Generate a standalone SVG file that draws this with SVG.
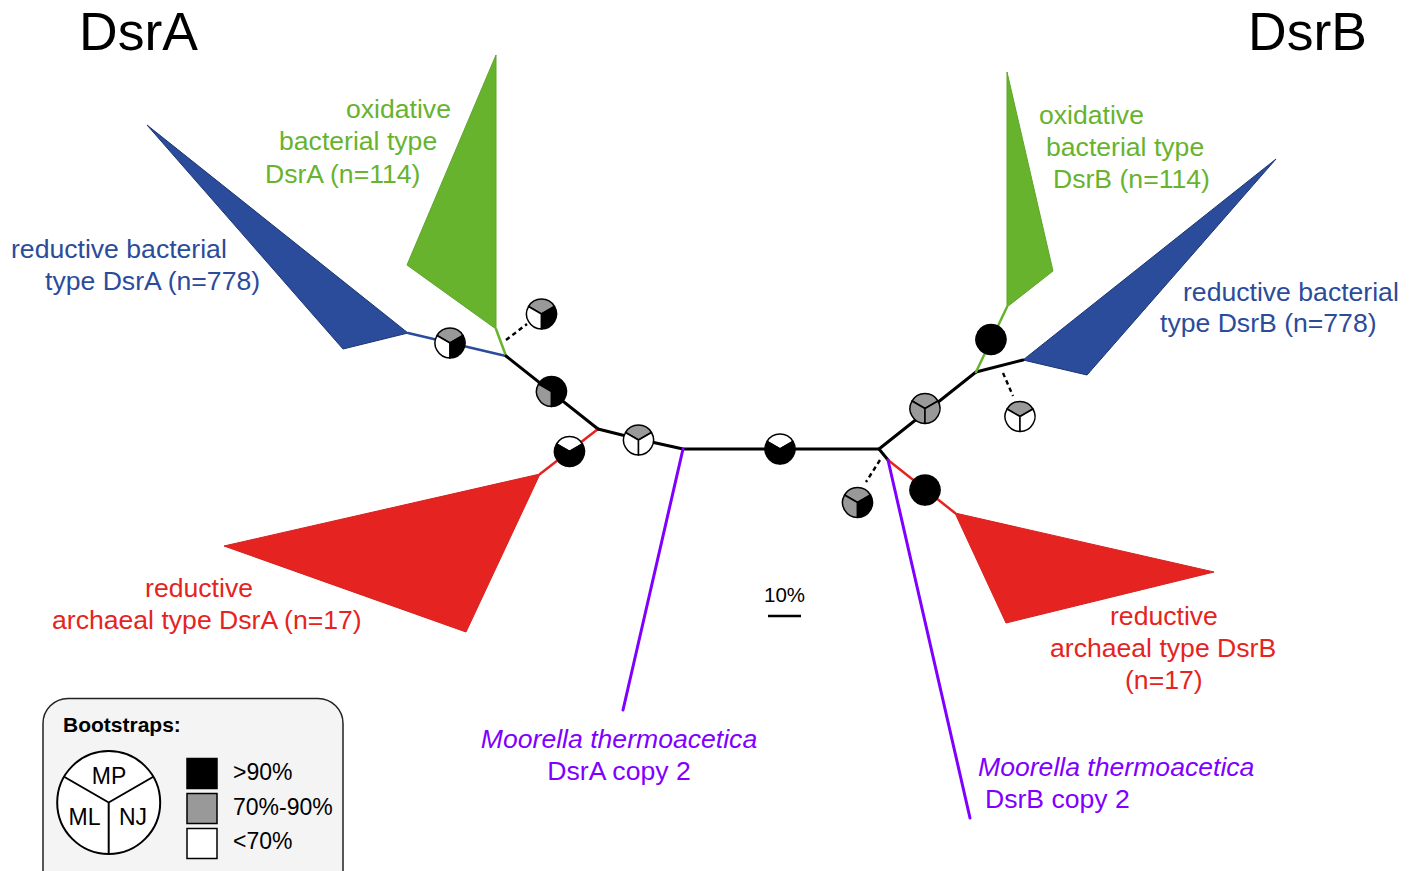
<svg xmlns="http://www.w3.org/2000/svg" xmlns:xlink="http://www.w3.org/1999/xlink" width="1413" height="871" viewBox="0 0 1413 871">
  <style>
    text { font-family: "Liberation Sans", Arial, sans-serif; }
    .lbl { font-size: 26.6px; }
    .green { fill: #67b32e; }
    .blue { fill: #2b4b9b; }
    .red { fill: #e52421; }
    .purple { fill: #8000ff; }
    .title { font-size: 53.5px; fill: #000; }
    .br { fill: none; stroke-linecap: round; stroke-linejoin: round; }
    .bk { stroke: #000; stroke-width: 3; }
    .gr { stroke: #67b32e; stroke-width: 2.5; }
    .bl { stroke: #2b4b9b; stroke-width: 2.5; }
    .rd { stroke: #e52421; stroke-width: 2.5; }
    .pu { stroke: #8000ff; stroke-width: 3; }
    .dash { fill: none; stroke: #000; stroke-width: 2.4; stroke-dasharray: 4.5 3.5; }
    .w-green { fill: #67b32e; stroke: #5ea52a; stroke-width: 1; }
    .w-blue { fill: #2b4b9b; stroke: #1d356f; stroke-width: 1; }
    .w-red { fill: #e52421; stroke: #d8201d; stroke-width: 1; }
    .s { stroke: #000; stroke-width: 1.5; stroke-linejoin: round; }
    .k { fill: #000; }
    .g { fill: #999999; }
    .o { fill: #ffffff; }
    .leg { font-size: 23px; fill: #000; }
  </style>
  <defs>
    <!-- pie sectors, radius 15: MP top, NJ lower right, ML lower left -->
    <path id="mp" d="M0,0 L-12.99,-7.5 A15,15 0 0,1 12.99,-7.5 Z"/>
    <path id="nj" d="M0,0 L12.99,-7.5 A15,15 0 0,1 0,15 Z"/>
    <path id="ml" d="M0,0 L0,15 A15,15 0 0,1 -12.99,-7.5 Z"/>
  </defs>

  <!-- titles -->
  <text class="title" x="79" y="50">DsrA</text>
  <text class="title" x="1367" y="50" text-anchor="end">DsrB</text>

  <!-- collapsed clades -->
  <g id="clade-dsra-reductive-bacterial">
    <polygon class="w-blue" points="147,125 408,333 343,349"/>
    <text class="lbl blue" x="11" y="258">reductive bacterial</text>
    <text class="lbl blue" x="45" y="290">type DsrA (n=778)</text>
  </g>
  <g id="clade-dsra-oxidative">
    <polygon class="w-green" points="496,55 496,329 407,265"/>
    <text class="lbl green" x="346" y="118">oxidative</text>
    <text class="lbl green" x="279" y="150">bacterial type</text>
    <text class="lbl green" x="265" y="182.5">DsrA (n=114)</text>
  </g>
  <g id="clade-dsra-archaeal">
    <polygon class="w-red" points="540,474 466,632 224,546"/>
    <text class="lbl red" x="253" y="596.5" text-anchor="end">reductive</text>
    <text class="lbl red" x="52" y="628.5">archaeal type DsrA (n=17)</text>
  </g>
  <g id="clade-dsrb-oxidative">
    <polygon class="w-green" points="1007,72 1053,271 1007,307"/>
    <text class="lbl green" x="1039" y="123.5">oxidative</text>
    <text class="lbl green" x="1046" y="155.5">bacterial type</text>
    <text class="lbl green" x="1053" y="188">DsrB (n=114)</text>
  </g>
  <g id="clade-dsrb-reductive-bacterial">
    <polygon class="w-blue" points="1023,360 1276,159 1087,375"/>
    <text class="lbl blue" x="1183" y="300.5">reductive bacterial</text>
    <text class="lbl blue" x="1160" y="332">type DsrB (n=778)</text>
  </g>
  <g id="clade-dsrb-archaeal">
    <polygon class="w-red" points="955,513 1214,572 1006,623"/>
    <text class="lbl red" x="1110" y="625">reductive</text>
    <text class="lbl red" x="1050" y="657">archaeal type DsrB</text>
    <text class="lbl red" x="1125" y="689">(n=17)</text>
  </g>
  <g id="leaf-moorella-dsra">
    <text class="lbl purple" x="619" y="748" text-anchor="middle" font-style="italic">Moorella thermoacetica</text>
    <text class="lbl purple" x="619" y="780" text-anchor="middle">DsrA copy 2</text>
  </g>
  <g id="leaf-moorella-dsrb">
    <text class="lbl purple" x="978" y="776" font-style="italic">Moorella thermoacetica</text>
    <text class="lbl purple" x="985" y="808">DsrB copy 2</text>
  </g>

  <!-- tree branches -->
  <g id="connectors">
    <line class="br bl" x1="408" y1="333" x2="506" y2="356"/>
    <line class="br gr" x1="506" y1="356" x2="496" y2="329"/>
    <line class="br bk" x1="506" y1="356" x2="598" y2="429"/>
    <line class="br rd" x1="598" y1="429" x2="540" y2="474"/>
    <polyline class="br bk" points="598,429 638,439 683,449 879,449 888,460"/>
    <line class="br pu" x1="683" y1="449" x2="623" y2="710"/>
    <line class="br bk" x1="879" y1="449" x2="976" y2="372"/>
    <line class="br bk" x1="976" y1="372" x2="1023" y2="360"/>
    <line class="br gr" x1="976" y1="372" x2="1007" y2="307"/>
    <line class="br rd" x1="888" y1="460" x2="955" y2="513"/>
    <line class="br pu" x1="888" y1="460" x2="970" y2="818"/>
    <line class="dash" x1="506" y1="340" x2="527" y2="324"/>
    <line class="dash" x1="880" y1="460" x2="866" y2="482"/>
    <line class="dash" x1="1003" y1="373" x2="1013" y2="396"/>
  </g>

  <!-- bootstrap pies -->
  <g id="pie-1" transform="translate(450,343)">
    <use href="#mp" class="g s"/><use href="#ml" class="o s"/><use href="#nj" class="k s"/>
  </g>
  <g id="pie-2" transform="translate(541.5,314)">
    <use href="#mp" class="g s"/><use href="#ml" class="o s"/><use href="#nj" class="k s"/>
  </g>
  <g id="pie-3" transform="translate(551.5,391.5)">
    <use href="#mp" class="k s"/><use href="#ml" class="g s"/><use href="#nj" class="k s"/>
  </g>
  <g id="pie-4" transform="translate(569.5,451.5)">
    <use href="#mp" class="o s"/><use href="#ml" class="k s"/><use href="#nj" class="k s"/>
  </g>
  <g id="pie-5" transform="translate(638.5,440)">
    <use href="#mp" class="g s"/><use href="#ml" class="o s"/><use href="#nj" class="o s"/>
  </g>
  <g id="pie-6" transform="translate(780,449)">
    <use href="#mp" class="o s"/><use href="#ml" class="k s"/><use href="#nj" class="k s"/>
  </g>
  <g id="pie-7" transform="translate(857.5,502.5)">
    <use href="#mp" class="g s"/><use href="#ml" class="g s"/><use href="#nj" class="k s"/>
  </g>
  <g id="pie-8" transform="translate(925,490)">
    <use href="#mp" class="k s"/><use href="#ml" class="k s"/><use href="#nj" class="k s"/>
  </g>
  <g id="pie-9" transform="translate(925,408.5)">
    <use href="#mp" class="g s"/><use href="#ml" class="g s"/><use href="#nj" class="g s"/>
  </g>
  <g id="pie-10" transform="translate(991,339.5)">
    <use href="#mp" class="k s"/><use href="#ml" class="k s"/><use href="#nj" class="k s"/>
  </g>
  <g id="pie-11" transform="translate(1020,416.5)">
    <use href="#mp" class="g s"/><use href="#ml" class="o s"/><use href="#nj" class="o s"/>
  </g>

  <!-- scale bar -->
  <g id="scale-bar">
    <text x="784.5" y="602" font-size="20.5" text-anchor="middle" fill="#000">10%</text>
    <line x1="768" y1="616" x2="801" y2="616" stroke="#000" stroke-width="2.5"/>
  </g>

  <!-- legend -->
  <g id="legend">
    <rect x="43" y="698.5" width="300" height="210" rx="25" ry="25" fill="#f4f4f4" stroke="#222" stroke-width="1.5"/>
    <text x="63" y="732" font-size="21" font-weight="bold" fill="#000">Bootstraps:</text>
    <circle cx="108.7" cy="802.5" r="51.5" fill="#fff" stroke="#000" stroke-width="2"/>
    <path d="M108.7,802.5 L64.1,776.75 M108.7,802.5 L153.3,776.75 M108.7,802.5 L108.7,854" stroke="#000" stroke-width="2" fill="none"/>
    <text class="leg" x="109" y="784" font-size="22" text-anchor="middle">MP</text>
    <text class="leg" x="68.5" y="825" font-size="22">ML</text>
    <text class="leg" x="119" y="825" font-size="22">NJ</text>
    <rect x="187" y="758.5" width="30" height="30" fill="#000" stroke="#000" stroke-width="1.5"/>
    <rect x="187" y="793.5" width="30" height="30" fill="#999999" stroke="#000" stroke-width="1.5"/>
    <rect x="187" y="828.5" width="30" height="30" fill="#fff" stroke="#000" stroke-width="1.5"/>
    <text class="leg" x="233" y="780">&gt;90%</text>
    <text class="leg" x="233" y="814.5">70%-90%</text>
    <text class="leg" x="233" y="849">&lt;70%</text>
  </g>
</svg>
